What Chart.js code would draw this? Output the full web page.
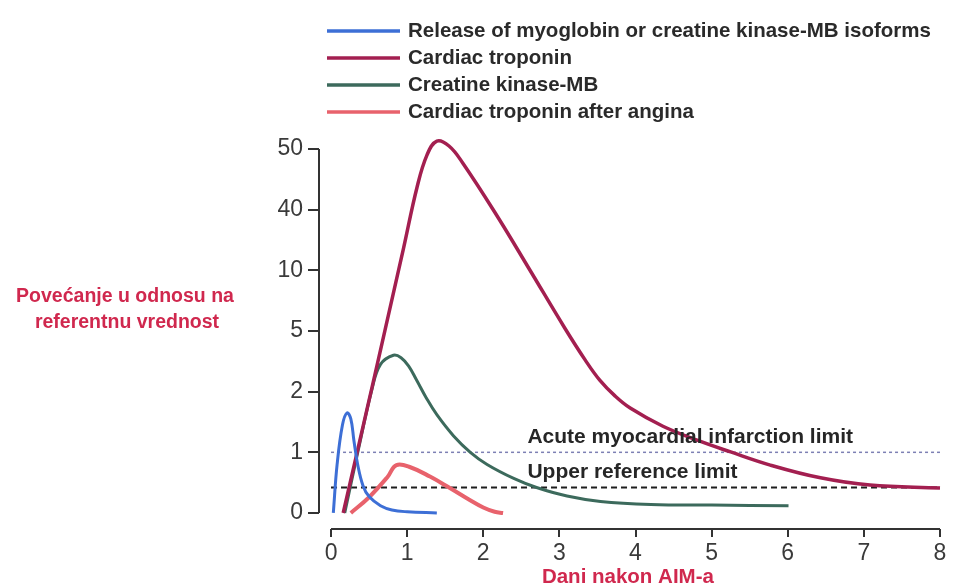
<!DOCTYPE html>
<html>
<head>
<meta charset="utf-8">
<script src="https://cdn.jsdelivr.net/npm/chart.js@4.4.1/dist/chart.umd.min.js"></script>
<style>
  html, body { margin: 0; padding: 0; background: #fff; }
  #wrap { width: 976px; height: 583px; }
</style>
</head>
<body>
<div id="wrap"><canvas id="chart" width="976" height="583"></canvas></div>
<script>
// axis ticks (the y axis is not linear: each label sits one step apart)
const xTickValues = [0, 1, 2, 3, 4, 5, 6, 7, 8];
const yTickValues = [0, 1, 2, 5, 10, 40, 50];

const seriesLabels = [
    'Release of myoglobin or creatine kinase-MB isoforms',
    'Cardiac troponin',
    'Creatine kinase-MB',
    'Cardiac troponin after angina'
];

// days after AMI / rise relative to reference value
const myoDays   = [0.03, 0.08, 0.15, 0.21, 0.26, 0.30, 0.35, 0.42, 0.50, 0.65, 0.80, 1.00, 1.39];
const myoValues = [0, 0.8, 1.45, 1.65, 1.55, 1.2, 0.8, 0.45, 0.27, 0.12, 0.05, 0.02, 0];

const tropDays   = [0.16, 0.54, 0.71, 0.95, 1.13, 1.26, 1.39, 1.55, 1.73, 2.18, 2.61, 3.07, 3.34, 3.53, 3.73, 3.93, 4.36, 4.81, 5.24, 5.77, 6.43, 7.08, 8.0];
const tropValues = [0, 2.24, 5.1, 20.5, 43.7, 49.0, 51.3, 50.5, 47.7, 37.0, 10.3, 5.25, 3.56, 2.57, 1.93, 1.73, 1.43, 1.20, 1.01, 0.79, 0.58, 0.46, 0.41];

const ckDays   = [0.18, 0.36, 0.54, 0.65, 0.82, 0.92, 1.02, 1.12, 1.25, 1.39, 1.61, 1.83, 2.05, 2.40, 2.70, 3.10, 3.54, 4.20, 5.00, 6.01];
const ckValues = [0, 1.05, 2.15, 3.35, 3.8, 3.68, 3.26, 2.6, 1.9, 1.62, 1.27, 1.0, 0.8, 0.57, 0.42, 0.28, 0.19, 0.14, 0.13, 0.12];

const anginaDays   = [0.26, 0.50, 0.74, 0.86, 1.05, 1.30, 1.55, 1.80, 2.00, 2.15, 2.26];
const anginaValues = [0, 0.26, 0.59, 0.79, 0.75, 0.60, 0.42, 0.23, 0.09, 0.02, 0];

const amiLimit = 1;
const upperRefLimit = 0.42;

const colors = ['#3d6fd6', '#a31f50', '#3c6a5c', '#e8626c'];
const widths = [3, 3.5, 3, 4];

// value -> position on the stepped y axis
function toAxis(v) {
    const t = yTickValues;
    for (let i = 0; i < t.length - 1; i++) {
        if (v <= t[i + 1] || i === t.length - 2) {
            return i + (v - t[i]) / (t[i + 1] - t[i]);
        }
    }
}

const points = (days, vals) => days.map((d, i) => ({ x: d, y: toAxis(vals[i]) }));

const curves = [
    points(myoDays, myoValues),
    points(tropDays, tropValues),
    points(ckDays, ckValues),
    points(anginaDays, anginaValues)
];

const datasets = curves.map((data, i) => ({
    label: seriesLabels[i],
    data: data,
    borderColor: colors[i],
    borderWidth: widths[i],
    pointRadius: 0,
    tension: 0.4,
    clip: false,
    order: i
}));

datasets.push({
    label: 'Acute myocardial infarction limit',
    data: [{ x: 0, y: toAxis(amiLimit) }, { x: 8, y: toAxis(amiLimit) }],
    borderColor: '#7d80b4',
    borderWidth: 1.5,
    borderDash: [3, 3],
    pointRadius: 0,
    order: 10
});
datasets.push({
    label: 'Upper reference limit',
    data: [{ x: 0, y: toAxis(upperRefLimit) }, { x: 8, y: toAxis(upperRefLimit) }],
    borderColor: '#1e1e1e',
    borderWidth: 2,
    borderDash: [6, 4],
    pointRadius: 0,
    order: 11
});

const decor = {
    id: 'decor',
    afterDraw(chart) {
        const { ctx } = chart;
        const x = chart.scales.x;
        const y = chart.scales.y;
        ctx.save();

        // offset axis lines
        ctx.strokeStyle = '#333';
        ctx.lineWidth = 2;
        ctx.beginPath();
        ctx.moveTo(x.left, y.getPixelForValue(0));
        ctx.lineTo(x.left, y.getPixelForValue(yTickValues.length - 1));
        ctx.moveTo(x.getPixelForValue(0), y.bottom);
        ctx.lineTo(x.getPixelForValue(8), y.bottom);
        ctx.stroke();

        // limit labels
        ctx.fillStyle = '#262626';
        ctx.font = 'bold 21px "Liberation Sans", Arial, sans-serif';
        ctx.textBaseline = 'middle';
        ctx.textAlign = 'left';
        const lx = x.getPixelForValue(2.58);
        ctx.fillText('Acute myocardial infarction limit', lx, y.getPixelForValue(toAxis(amiLimit)) - 15);
        ctx.fillText('Upper reference limit', lx, y.getPixelForValue(toAxis(upperRefLimit)) - 15);

        // legend
        ctx.font = 'bold 20.5px "Liberation Sans", Arial, sans-serif';
        seriesLabels.forEach((label, i) => {
            const ly = 31 + i * 27;
            ctx.strokeStyle = colors[i];
            ctx.lineWidth = 3.5;
            ctx.beginPath();
            ctx.moveTo(327, ly);
            ctx.lineTo(400, ly);
            ctx.stroke();
            ctx.fillStyle = '#2a2a2a';
            ctx.fillText(label, 408, ly);
        });

        // axis titles
        ctx.fillStyle = '#d0284e';
        ctx.textAlign = 'center';
        ctx.font = 'bold 19.5px "Liberation Sans", Arial, sans-serif';
        ctx.fillText('Povećanje u odnosu na', 125, 297);
        ctx.fillText('referentnu vrednost', 127, 323);
        ctx.font = 'bold 20.5px "Liberation Sans", Arial, sans-serif';
        ctx.fillText('Dani nakon AIM-a', x.getPixelForValue(3.9), 577);

        ctx.restore();
    }
};

new Chart(document.getElementById('chart'), {
    type: 'line',
    data: { datasets: datasets },
    options: {
        responsive: false,
        animation: false,
        layout: { padding: { top: 149, right: 36, left: 0, bottom: 0 } },
        plugins: {
            legend: { display: false },
            tooltip: { enabled: false }
        },
        scales: {
            x: {
                type: 'linear',
                min: -0.158,
                max: 8,
                afterFit: s => { s.height = 54; },
                afterBuildTicks: s => { s.ticks = xTickValues.map(v => ({ value: v })); },
                border: { display: false },
                grid: { drawOnChartArea: false, drawTicks: true, tickLength: 8, color: '#333', lineWidth: 2 },
                ticks: {
                    padding: 3,
                    color: '#3a3a3a',
                    font: { family: '"Liberation Sans", Arial, sans-serif', size: 23 },
                    maxRotation: 0
                }
            },
            y: {
                type: 'linear',
                min: -0.264,
                max: 6,
                afterFit: s => { s.width = 319; },
                afterBuildTicks: s => { s.ticks = yTickValues.map((v, i) => ({ value: i })); },
                border: { display: false },
                grid: { drawOnChartArea: false, drawTicks: true, tickLength: 11, color: '#333', lineWidth: 2 },
                ticks: {
                    padding: 5,
                    color: '#3a3a3a',
                    font: { family: '"Liberation Sans", Arial, sans-serif', size: 23 },
                    callback: (v) => yTickValues[v]
                }
            }
        }
    },
    plugins: [decor]
});
</script>
</body>
</html>
